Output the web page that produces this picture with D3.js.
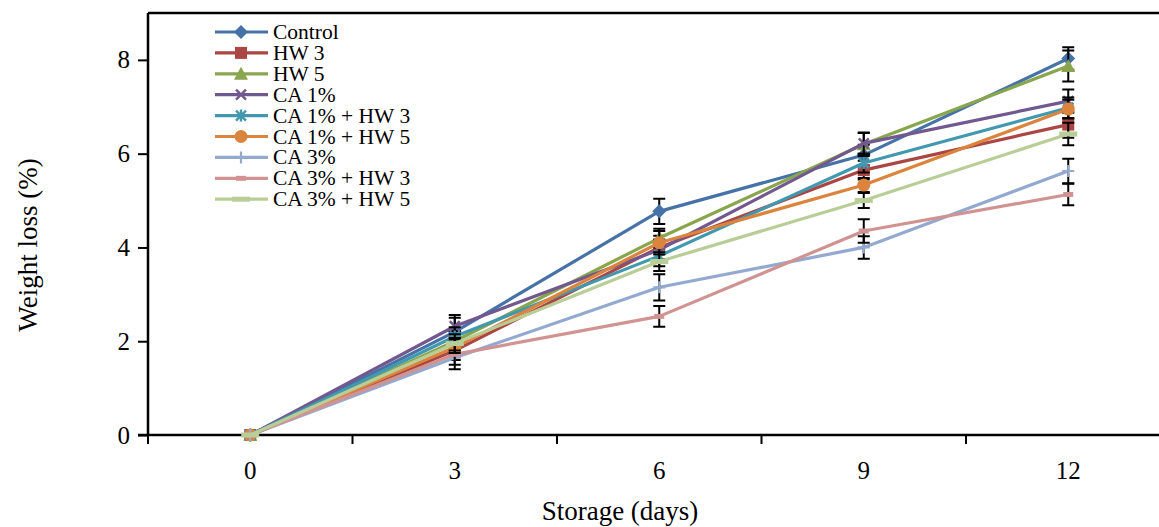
<!DOCTYPE html>
<html>
<head>
<meta charset="utf-8">
<script src="https://cdn.jsdelivr.net/npm/d3@7"></script>
<style>
  body { margin: 0; background: #fff; }
  svg { font-family: "Liberation Serif", "Times New Roman", serif; }
</style>
</head>
<body>
<div id="chart"></div>
<script>
// 数据
const days = ['0', '3', '6', '9', '12'];
const seriesNames = ['Control', 'HW 3', 'HW 5', 'CA 1%', 'CA 1% + HW 3', 'CA 1% + HW 5', 'CA 3%', 'CA 3% + HW 3', 'CA 3% + HW 5'];
const control   = [0, 2.20, 4.77, 5.97, 8.03];
const hw3       = [0, 1.80, 4.00, 5.65, 6.62];
const hw5       = [0, 2.00, 4.20, 6.20, 7.87];
const ca1       = [0, 2.32, 3.95, 6.22, 7.12];
const ca1hw3    = [0, 2.10, 3.82, 5.80, 6.98];
const ca1hw5    = [0, 1.87, 4.10, 5.33, 6.95];
const ca3       = [0, 1.65, 3.15, 4.00, 5.63];
const ca3hw3    = [0, 1.72, 2.53, 4.35, 5.13];
const ca3hw5    = [0, 1.95, 3.70, 5.00, 6.42];
// 标准差
const controlSd = [0, 0.30, 0.27, 0.22, 0.24];
const hw3Sd     = [0, 0.20, 0.25, 0.20, 0.28];
const hw5Sd     = [0, 0.22, 0.20, 0.25, 0.33];
const ca1Sd     = [0, 0.24, 0.22, 0.22, 0.25];
const ca1hw3Sd  = [0, 0.20, 0.22, 0.20, 0.22];
const ca1hw5Sd  = [0, 0.20, 0.25, 0.15, 0.20];
const ca3Sd     = [0, 0.15, 0.28, 0.24, 0.26];
const ca3hw3Sd  = [0, 0.32, 0.22, 0.25, 0.23];
const ca3hw5Sd  = [0, 0.20, 0.20, 0.16, 0.24];
const yTicks = [0, 2, 4, 6, 8];

const values = [control, hw3, hw5, ca1, ca1hw3, ca1hw5, ca3, ca3hw3, ca3hw5];
const sds = [controlSd, hw3Sd, hw5Sd, ca1Sd, ca1hw3Sd, ca1hw5Sd, ca3Sd, ca3hw3Sd, ca3hw5Sd];
const colors = ['#4572A7', '#AA4643', '#89A54E', '#71588F', '#4198AF', '#DB843D', '#93A9CF', '#D19392', '#B9CD96'];
const markers = ['diamond', 'square', 'triangle', 'x', 'star', 'circle', 'plus', 'dash', 'longdash'];

const W = 1159, H = 527;
const plotLeft = 148, plotTop = 13, plotBottom = 435;

const svg = d3.select('#chart').append('svg')
    .attr('width', W).attr('height', H);

const x = d3.scaleBand().domain(days).range([plotLeft, plotLeft + 5 * 204.5]);
const y = d3.scaleLinear().domain([0, 9]).range([plotBottom, plotTop]);
const cx = d => x(d) + x.bandwidth() / 2;

// 绘制标记
function drawMarker(g, type, color) {
    if (type === 'diamond') {
        g.append('path').attr('d', 'M0,-7L7,0L0,7L-7,0Z').attr('fill', color);
    } else if (type === 'square') {
        g.append('rect').attr('x', -6).attr('y', -6).attr('width', 12).attr('height', 12).attr('fill', color);
    } else if (type === 'triangle') {
        g.append('path').attr('d', 'M0,-7L7,6L-7,6Z').attr('fill', color);
    } else if (type === 'circle') {
        g.append('circle').attr('r', 6.5).attr('fill', color);
    } else if (type === 'x') {
        g.append('path').attr('d', 'M-5,-5L5,5M-5,5L5,-5').attr('stroke', color).attr('stroke-width', 2.4);
    } else if (type === 'star') {
        g.append('path').attr('d', 'M-5,-5L5,5M-5,5L5,-5M0,-6L0,6').attr('stroke', color).attr('stroke-width', 2.4);
    } else if (type === 'plus') {
        g.append('path').attr('d', 'M-6,0L6,0M0,-6L0,6').attr('stroke', color).attr('stroke-width', 2.2);
    } else if (type === 'dash') {
        g.append('path').attr('d', 'M-5,0L5,0').attr('stroke', color).attr('stroke-width', 5);
    } else if (type === 'longdash') {
        g.append('path').attr('d', 'M-9,0L9,0').attr('stroke', color).attr('stroke-width', 5);
    }
}

// 边框
svg.append('line').attr('x1', plotLeft).attr('x2', W).attr('y1', plotTop).attr('y2', plotTop)
    .attr('stroke', '#000').attr('stroke-width', 2.5);

// Y 轴
const yAxis = svg.append('g')
    .attr('transform', `translate(${plotLeft},0)`)
    .call(d3.axisLeft(y).tickValues(yTicks).tickSize(10).tickPadding(8));
yAxis.select('.domain').attr('d', `M0,${plotTop}V${plotBottom}`).attr('stroke-width', 2.5);
yAxis.selectAll('.tick line').attr('stroke-width', 2);
yAxis.selectAll('.tick text').attr('font-size', 25).attr('font-family', '"Liberation Serif", serif').attr('fill', '#000');

// X 轴
const xAxis = svg.append('g')
    .attr('transform', `translate(0,${plotBottom})`)
    .call(d3.axisBottom(x).tickSize(0).tickPadding(26));
xAxis.select('.domain').attr('d', `M${plotLeft - 10},0H${W}`).attr('stroke-width', 2.5);
xAxis.selectAll('.tick text').attr('font-size', 25).attr('font-family', '"Liberation Serif", serif').attr('fill', '#000');
xAxis.selectAll('.bound').data(days).enter().append('line')
    .attr('x1', d => x(d)).attr('x2', d => x(d))
    .attr('y1', 0).attr('y2', 9)
    .attr('stroke', '#000').attr('stroke-width', 2);

// 轴标题
svg.append('text').attr('x', 620).attr('y', 520).attr('text-anchor', 'middle')
    .attr('font-size', 27).text('Storage (days)');
svg.append('text').attr('transform', 'translate(37,245) rotate(-90)').attr('text-anchor', 'middle')
    .attr('font-size', 27).text('Weight loss (%)');

// 系列
const line = d3.line().x((d, i) => cx(days[i])).y(d => y(d));
values.forEach((vals, s) => {
    const g = svg.append('g');
    g.append('path').datum(vals)
        .attr('d', line).attr('fill', 'none')
        .attr('stroke', colors[s]).attr('stroke-width', 3.2)
        .attr('stroke-linejoin', 'round');
    vals.forEach((v, i) => {
        const sd = sds[s][i];
        if (sd > 0) {
            const px = cx(days[i]);
            g.append('path')
                .attr('d', `M${px},${y(v - sd)}V${y(v + sd)}M${px - 6},${y(v - sd)}H${px + 6}M${px - 6},${y(v + sd)}H${px + 6}`)
                .attr('stroke', '#000').attr('stroke-width', 2).attr('fill', 'none');
        }
        const m = g.append('g').attr('transform', `translate(${cx(days[i])},${y(v)})`);
        drawMarker(m, markers[s], colors[s]);
    });
});

// 图例
const legend = svg.append('g');
seriesNames.forEach((name, i) => {
    const ly = 32 + i * 20.9;
    const row = legend.append('g').attr('transform', `translate(0,${ly})`);
    row.append('line').attr('x1', 215).attr('x2', 268).attr('y1', 0).attr('y2', 0)
        .attr('stroke', colors[i]).attr('stroke-width', 3.2);
    const m = row.append('g').attr('transform', 'translate(241,0)');
    drawMarker(m, markers[i], colors[i]);
    row.append('text').attr('x', 273).attr('y', 7).attr('font-size', 21.5).text(name);
});
</script>
</body>
</html>
